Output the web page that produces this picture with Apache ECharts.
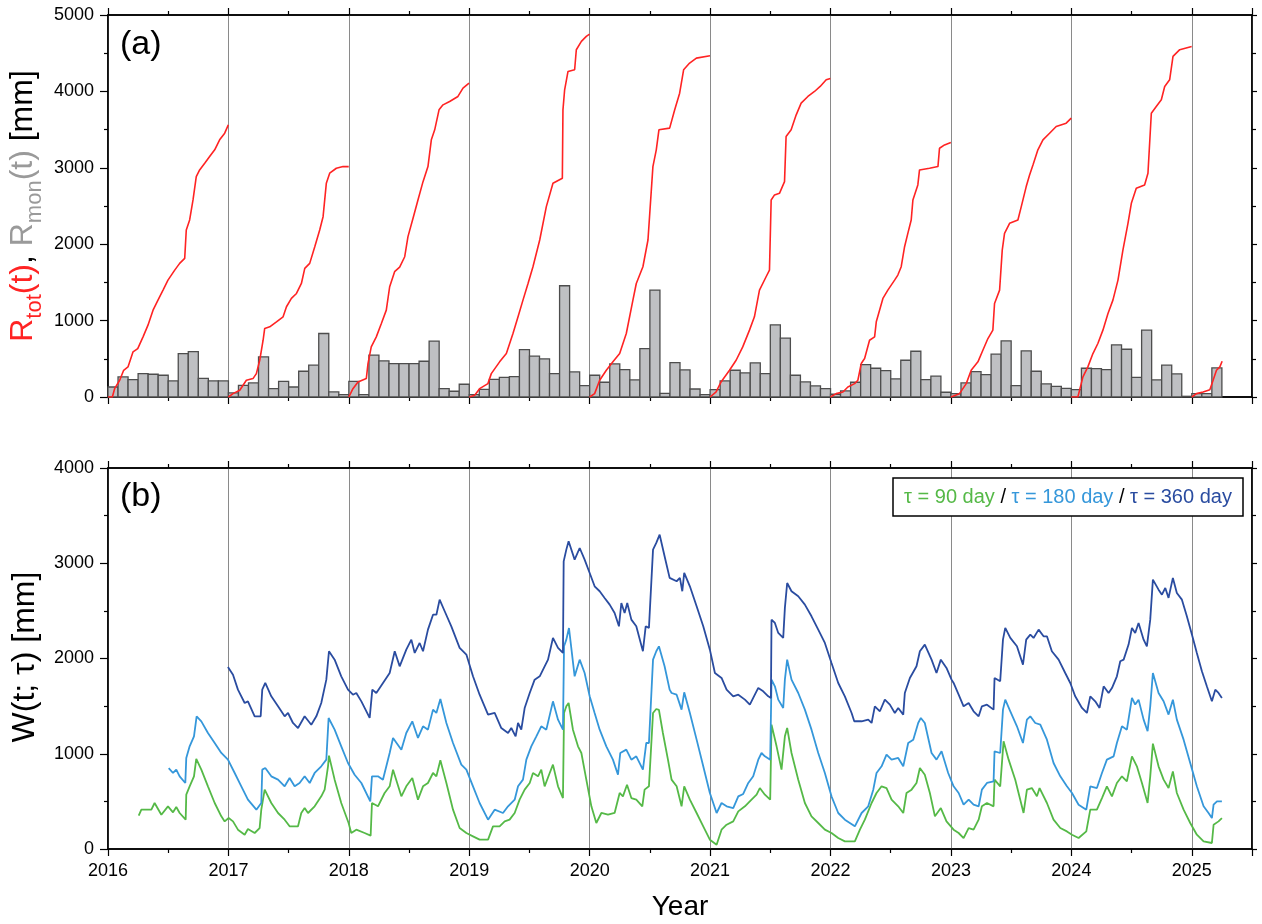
<!DOCTYPE html>
<html><head><meta charset="utf-8">
<script src="https://cdn.jsdelivr.net/npm/echarts/dist/echarts.min.js"></script>
<style>html,body{margin:0;padding:0;background:#fff}#c{width:1262px;height:924px}</style>
</head><body><div id="c"></div>
<script>
// ---------- DATA ----------
const monthlyStartYear = 2016; // Jan 2016 .. Mar 2025
const monthlyRain = [
 131,263,228,306,298,285,210,569,595,245,210,210,
 53,153,184,525,109,205,131,337,416,831,66,31,
 205,31,547,473,438,438,438,468,731,109,75,167,
 31,101,232,258,267,621,534,499,306,1456,328,149,
 285,193,433,359,224,634,1399,48,451,355,105,31,
 97,210,350,315,447,306,945,770,285,197,145,110,
 36,79,193,425,376,346,237,481,599,228,272,62,
 44,184,333,293,560,735,149,604,337,171,140,114,
 97,376,372,359,682,625,258,875,224,416,302,9,
 44,44,381
];
const rtot2016 = [[2016.000,0],[2016.036,0],[2016.055,109],[2016.097,219],[2016.130,350],[2016.166,394],[2016.208,591],[2016.247,634],[2016.291,787],[2016.332,940],[2016.374,1137],[2016.415,1268],[2016.457,1399],[2016.498,1530],[2016.554,1661],[2016.595,1749],[2016.637,1814],[2016.650,2186],[2016.678,2317],[2016.706,2579],[2016.733,2885],[2016.761,2972],[2016.803,3060],[2016.844,3147],[2016.886,3235],[2016.927,3366],[2016.969,3453],[2016.999,3562]];
const rtot2017 = [[2017.000,0],[2017.038,44],[2017.094,88],[2017.149,219],[2017.204,241],[2017.232,306],[2017.260,481],[2017.288,743],[2017.301,896],[2017.343,918],[2017.399,984],[2017.454,1050],[2017.482,1181],[2017.523,1290],[2017.565,1355],[2017.606,1486],[2017.634,1683],[2017.675,1749],[2017.717,1967],[2017.758,2186],[2017.786,2360],[2017.813,2797],[2017.841,2929],[2017.896,2994],[2017.952,3016],[2017.999,3016]];
const rtot2018 = [[2018.000,0],[2018.034,109],[2018.076,197],[2018.145,241],[2018.159,438],[2018.186,656],[2018.228,787],[2018.270,962],[2018.311,1137],[2018.339,1443],[2018.380,1640],[2018.422,1700],[2018.464,1836],[2018.491,2099],[2018.533,2339],[2018.574,2579],[2018.616,2819],[2018.657,3016],[2018.685,3366],[2018.713,3497],[2018.749,3759],[2018.782,3824],[2018.837,3868],[2018.906,3934],[2018.948,4043],[2018.998,4109]];
const rtot2019 = [[2019.000,0],[2019.045,22],[2019.086,109],[2019.155,175],[2019.183,306],[2019.252,460],[2019.308,569],[2019.363,831],[2019.405,1050],[2019.446,1268],[2019.488,1486],[2019.529,1705],[2019.585,2055],[2019.640,2492],[2019.695,2797],[2019.773,2863],[2019.778,3759],[2019.792,4021],[2019.820,4261],[2019.875,4283],[2019.889,4545],[2019.931,4655],[2019.972,4720],[2019.999,4750]];
const rtot2020 = [[2020.000,0],[2020.041,44],[2020.083,219],[2020.138,350],[2020.193,460],[2020.249,569],[2020.304,831],[2020.359,1268],[2020.387,1486],[2020.442,1705],[2020.484,2055],[2020.525,3016],[2020.553,3235],[2020.575,3497],[2020.664,3519],[2020.706,3759],[2020.747,3977],[2020.780,4283],[2020.830,4371],[2020.886,4436],[2020.999,4467]];
const rtot2021 = [[2021.000,0],[2021.050,66],[2021.091,197],[2021.161,350],[2021.216,481],[2021.271,656],[2021.327,875],[2021.368,1050],[2021.410,1399],[2021.465,1574],[2021.493,1661],[2021.507,2579],[2021.535,2645],[2021.576,2666],[2021.618,2819],[2021.631,3409],[2021.673,3497],[2021.715,3693],[2021.756,3846],[2021.812,3934],[2021.867,3999],[2021.914,4065],[2021.964,4152],[2021.999,4170]];
const rtot2022 = [[2022.000,0],[2022.047,44],[2022.103,66],[2022.144,131],[2022.200,175],[2022.227,219],[2022.255,438],[2022.283,503],[2022.324,743],[2022.366,787],[2022.380,984],[2022.435,1290],[2022.476,1399],[2022.532,1530],[2022.559,1596],[2022.587,1705],[2022.615,1967],[2022.642,2142],[2022.670,2317],[2022.684,2579],[2022.725,2776],[2022.739,2972],[2022.822,2994],[2022.892,3016],[2022.905,3256],[2022.947,3300],[2022.999,3331]];
const rtot2023 = [[2023.000,0],[2023.071,44],[2023.127,175],[2023.168,350],[2023.224,460],[2023.265,612],[2023.307,765],[2023.348,875],[2023.362,1224],[2023.404,1399],[2023.426,1923],[2023.445,2142],[2023.487,2273],[2023.556,2317],[2023.584,2492],[2023.625,2754],[2023.653,2907],[2023.681,3038],[2023.722,3235],[2023.764,3366],[2023.819,3453],[2023.874,3540],[2023.957,3584],[2023.999,3650]];
const rtot2024 = [[2024.000,0],[2024.054,0],[2024.096,263],[2024.137,394],[2024.179,569],[2024.220,700],[2024.262,875],[2024.304,1093],[2024.345,1268],[2024.387,1530],[2024.428,1923],[2024.470,2273],[2024.498,2535],[2024.539,2732],[2024.608,2776],[2024.636,2929],[2024.664,3715],[2024.705,3803],[2024.747,3890],[2024.775,4065],[2024.816,4152],[2024.844,4458],[2024.900,4546],[2024.999,4589]];
const rtot2025 = [[2025.000,0],[2025.039,44],[2025.094,66],[2025.150,96],[2025.177,219],[2025.205,350],[2025.233,394],[2025.252,468]];

const w90 = [[2016.255,350],[2016.277,413],[2016.360,413],[2016.387,483],[2016.443,360],[2016.498,448],[2016.540,385],[2016.567,441],[2016.595,378],[2016.645,308],[2016.650,570],[2016.678,658],[2016.714,763],[2016.733,945],[2016.775,833],[2016.830,658],[2016.886,483],[2016.941,343],[2016.969,290],[2017.002,325],[2017.038,290],[2017.079,203],[2017.135,150],[2017.162,210],[2017.218,168],[2017.259,220],[2017.273,413],[2017.301,623],[2017.356,483],[2017.412,378],[2017.467,308],[2017.508,238],[2017.578,238],[2017.605,378],[2017.633,430],[2017.661,378],[2017.716,448],[2017.771,553],[2017.799,623],[2017.827,868],[2017.835,980],[2017.882,728],[2017.937,483],[2017.998,273],[2018.020,168],[2018.062,203],[2018.131,168],[2018.181,140],[2018.192,483],[2018.242,448],[2018.297,588],
[2018.339,658],[2018.367,833],[2018.436,553],[2018.477,658],[2018.527,745],[2018.574,518],[2018.616,658],[2018.657,693],[2018.699,798],[2018.727,763],[2018.760,931],[2018.810,693],[2018.865,413],[2018.920,221],[2018.976,168],[2019.031,133],[2019.086,98],[2019.156,98],[2019.197,238],[2019.252,238],[2019.294,290],[2019.335,308],[2019.377,378],[2019.418,518],[2019.460,623],[2019.502,693],[2019.529,798],[2019.571,763],[2019.598,833],[2019.626,658],[2019.668,798],[2019.695,886],[2019.737,658],[2019.778,535],[2019.787,1428],[2019.806,1498],[2019.825,1533],[2019.861,1253],[2019.903,1078],[2019.931,1008],[2019.972,728],[2020.014,448],[2020.055,273],[2020.097,378],[2020.152,360],[2020.207,378],[2020.249,588],[2020.276,553],[2020.310,675],[2020.346,535],[2020.387,518],[2020.437,448],[2020.456,623],[2020.492,658],[2020.526,1428],[2020.553,1470],[2020.575,1460],[2020.608,1218],[2020.650,938],
[2020.680,728],[2020.722,658],[2020.763,448],[2020.785,658],[2020.832,518],[2020.888,378],[2020.943,238],[2020.998,98],[2021.054,45],[2021.095,203],[2021.137,255],[2021.192,290],[2021.234,395],[2021.289,448],[2021.344,518],[2021.386,570],[2021.413,640],[2021.455,570],[2021.499,518],[2021.510,1306],[2021.552,1078],[2021.593,833],[2021.621,1183],[2021.640,1271],[2021.676,1008],[2021.732,728],[2021.787,483],[2021.842,343],[2021.898,273],[2021.953,203],[2022.008,168],[2022.064,115],[2022.119,80],[2022.202,80],[2022.244,203],[2022.285,308],[2022.341,483],[2022.382,588],[2022.424,658],[2022.465,640],[2022.507,518],[2022.562,448],[2022.604,378],[2022.631,588],[2022.673,623],[2022.714,693],[2022.742,850],[2022.783,780],[2022.825,588],[2022.867,343],[2022.916,430],[2022.963,290],
[2023.022,203],[2023.064,168],[2023.105,115],[2023.147,220],[2023.188,203],[2023.230,308],[2023.257,448],[2023.299,483],[2023.354,448],[2023.362,728],[2023.409,658],[2023.437,1131],[2023.479,938],[2023.534,728],[2023.603,378],[2023.631,623],[2023.672,640],[2023.714,553],[2023.736,640],[2023.797,483],[2023.852,308],[2023.908,221],[2023.963,185],[2024.005,150],[2024.060,115],[2024.124,185],[2024.157,413],[2024.212,413],[2024.254,535],[2024.295,658],[2024.337,553],[2024.378,693],[2024.420,763],[2024.461,710],[2024.503,973],[2024.544,868],[2024.586,693],[2024.633,483],[2024.655,763],[2024.677,1106],[2024.724,868],[2024.766,728],[2024.807,640],[2024.843,815],[2024.876,588],[2024.932,413],[2024.987,273],[2025.042,150],[2025.098,80],[2025.167,63],[2025.181,255],[2025.222,290],[2025.250,325]];

const w180 = [[2016.504,850],[2016.540,798],[2016.567,833],[2016.595,763],[2016.642,693],[2016.650,956],[2016.678,1078],[2016.714,1183],[2016.736,1393],[2016.775,1340],[2016.830,1218],[2016.886,1113],[2016.941,1008],[2016.996,938],[2017.052,798],[2017.107,658],[2017.162,518],[2017.232,413],[2017.273,483],[2017.281,833],[2017.306,850],[2017.356,763],[2017.412,728],[2017.467,658],[2017.508,745],[2017.550,658],[2017.591,693],[2017.633,763],[2017.675,693],[2017.716,798],[2017.771,868],[2017.813,938],[2017.832,1375],[2017.882,1253],[2017.937,1078],[2017.993,903],[2018.048,780],[2018.104,693],[2018.178,500],[2018.192,763],[2018.242,763],[2018.283,728],
[2018.339,1008],[2018.367,1166],[2018.436,1043],[2018.477,1218],[2018.527,1340],[2018.574,1166],[2018.616,1288],[2018.657,1253],[2018.699,1463],[2018.727,1428],[2018.760,1575],[2018.810,1323],[2018.865,1113],[2018.934,886],[2018.976,833],[2019.031,658],[2019.086,483],[2019.156,308],[2019.211,413],[2019.280,378],[2019.322,448],[2019.377,518],[2019.405,658],[2019.446,728],[2019.474,938],[2019.515,1078],[2019.557,1183],[2019.598,1288],[2019.640,1253],[2019.695,1550],[2019.737,1358],[2019.778,1253],[2019.787,2128],[2019.806,2198],[2019.828,2320],[2019.875,1813],[2019.917,1988],[2019.958,1848],[2020.000,1603],[2020.041,1428],[2020.083,1253],[2020.138,1078],[2020.193,938],[2020.235,780],[2020.254,1008],[2020.304,1043],[2020.346,938],[2020.387,973],[2020.442,833],[2020.470,1113],[2020.492,1113],[2020.526,1988],[2020.553,2076],[2020.575,2128],[2020.622,1918],[2020.664,1673],
[2020.680,1638],[2020.722,1620],[2020.763,1463],[2020.785,1645],[2020.832,1428],[2020.888,1148],[2020.943,868],[2020.998,588],[2021.054,378],[2021.095,483],[2021.137,448],[2021.192,430],[2021.234,553],[2021.275,578],[2021.317,693],[2021.358,763],[2021.400,938],[2021.427,1008],[2021.455,973],[2021.499,938],[2021.510,1778],[2021.538,1708],[2021.566,1568],[2021.607,1481],[2021.621,1778],[2021.640,1988],[2021.676,1778],[2021.732,1638],[2021.787,1463],[2021.842,1253],[2021.898,1008],[2021.953,798],[2022.008,553],[2022.064,378],[2022.119,308],[2022.202,238],[2022.258,378],[2022.313,448],[2022.355,623],[2022.382,798],[2022.424,868],[2022.465,991],[2022.507,938],[2022.562,956],[2022.604,868],[2022.645,1113],[2022.687,1148],[2022.728,1323],[2022.750,1376],[2022.783,1323],[2022.839,1008],[2022.880,938],[2022.922,1026],[2022.977,798],
[2023.022,658],[2023.064,588],[2023.105,465],[2023.147,518],[2023.188,465],[2023.230,448],[2023.257,623],[2023.299,693],[2023.354,710],[2023.362,1026],[2023.409,1008],[2023.432,1463],[2023.451,1568],[2023.493,1446],[2023.548,1288],[2023.598,1113],[2023.631,1358],[2023.659,1393],[2023.700,1323],[2023.742,1306],[2023.797,1148],[2023.852,903],[2023.908,763],[2023.963,658],[2024.005,588],[2024.060,465],[2024.124,413],[2024.157,658],[2024.212,640],[2024.254,798],[2024.295,938],[2024.351,973],[2024.378,1113],[2024.420,1288],[2024.461,1253],[2024.503,1586],[2024.530,1516],[2024.558,1568],[2024.600,1358],[2024.633,1236],[2024.655,1498],[2024.677,1848],[2024.724,1638],[2024.766,1551],[2024.807,1411],[2024.843,1568],[2024.876,1358],[2024.932,1148],[2024.987,903],[2025.042,658],[2025.098,448],[2025.139,378],[2025.167,325],[2025.181,465],[2025.209,500],[2025.250,500]];

const w360 = [[2016.996,1911],[2017.038,1830],[2017.079,1673],[2017.135,1533],[2017.162,1550],[2017.218,1393],[2017.268,1393],[2017.281,1673],[2017.306,1743],[2017.356,1603],[2017.412,1498],[2017.467,1393],[2017.495,1428],[2017.536,1323],[2017.578,1270],[2017.633,1393],[2017.688,1305],[2017.730,1393],[2017.771,1533],[2017.813,1778],[2017.835,2076],[2017.882,1988],[2017.937,1813],[2017.993,1673],[2018.034,1620],[2018.062,1638],[2018.104,1550],[2018.173,1376],[2018.195,1673],[2018.228,1638],[2018.256,1691],
[2018.339,1848],[2018.381,2076],[2018.422,1918],[2018.477,2093],[2018.519,2198],[2018.547,2058],[2018.588,2163],[2018.616,2076],[2018.657,2303],[2018.699,2460],[2018.727,2460],[2018.754,2618],[2018.796,2496],[2018.851,2338],[2018.920,2111],[2018.976,2041],[2019.031,1813],[2019.086,1620],[2019.156,1410],[2019.211,1428],[2019.266,1270],[2019.322,1218],[2019.349,1270],[2019.385,1183],[2019.405,1323],[2019.432,1253],[2019.460,1480],[2019.502,1638],[2019.543,1778],[2019.585,1813],[2019.626,1918],[2019.654,1988],[2019.695,2216],[2019.737,2111],[2019.778,2058],[2019.784,3020],[2019.806,3143],[2019.825,3230],[2019.875,3038],[2019.917,3160],[2019.958,3038],[2020.000,2898],[2020.041,2758],[2020.083,2706],[2020.124,2636],[2020.166,2566],[2020.207,2478],[2020.243,2338],[2020.263,2583],[2020.290,2478],[2020.312,2583],[2020.346,2408],[2020.387,2338],[2020.442,2076],[2020.465,2338],[2020.492,2321],[2020.526,3143],[2020.553,3213],[2020.581,3300],[2020.622,3073],[2020.664,2846],
[2020.680,2828],[2020.722,2811],[2020.749,2846],[2020.769,2706],[2020.785,2898],[2020.832,2758],[2020.888,2548],[2020.943,2338],[2020.998,2093],[2021.040,1848],[2021.095,1796],[2021.137,1673],[2021.192,1603],[2021.234,1620],[2021.289,1568],[2021.330,1516],[2021.358,1586],[2021.400,1691],[2021.441,1656],[2021.483,1603],[2021.505,1586],[2021.510,2408],[2021.538,2373],[2021.566,2268],[2021.607,2216],[2021.621,2531],[2021.640,2793],[2021.676,2706],[2021.732,2653],[2021.787,2566],[2021.842,2443],[2021.898,2303],[2021.953,2163],[2022.008,1953],[2022.064,1743],[2022.119,1603],[2022.175,1428],[2022.197,1341],[2022.258,1341],[2022.313,1358],[2022.341,1323],[2022.368,1498],[2022.410,1446],[2022.451,1568],[2022.493,1516],[2022.534,1428],[2022.562,1481],[2022.604,1411],[2022.617,1638],[2022.659,1796],[2022.714,1918],[2022.742,2076],[2022.783,2146],[2022.839,1988],[2022.880,1848],[2022.916,1988],[2022.963,1901],[2023.005,1778],
[2023.022,1743],[2023.064,1620],[2023.105,1498],[2023.147,1533],[2023.188,1446],[2023.230,1393],[2023.257,1498],[2023.299,1515],[2023.354,1463],[2023.362,1796],[2023.409,1761],[2023.432,2198],[2023.451,2321],[2023.493,2216],[2023.548,2128],[2023.598,1936],[2023.625,2198],[2023.659,2251],[2023.686,2216],[2023.728,2303],[2023.769,2233],[2023.797,2233],[2023.838,2076],[2023.894,1988],[2023.949,1848],[2023.991,1743],[2024.032,1603],[2024.088,1481],[2024.129,1428],[2024.157,1603],[2024.198,1551],[2024.234,1481],[2024.268,1708],[2024.309,1638],[2024.337,1690],[2024.378,1813],[2024.406,1971],[2024.434,1988],[2024.475,2146],[2024.503,2321],[2024.530,2268],[2024.558,2373],[2024.600,2198],[2024.627,2128],[2024.655,2408],[2024.677,2828],[2024.724,2723],[2024.752,2670],[2024.780,2741],[2024.807,2636],[2024.843,2846],[2024.876,2688],[2024.918,2618],[2024.959,2443],[2025.001,2251],[2025.042,2058],[2025.084,1866],[2025.125,1708],[2025.167,1551],[2025.195,1673],[2025.222,1638],[2025.250,1586]];

const rtotYears = [rtot2016,rtot2017,rtot2018,rtot2019,rtot2020,rtot2021,rtot2022,rtot2023,rtot2024,rtot2025];

// ---------- CHART ----------
const F = 'Liberation Sans, Arial, Helvetica, sans-serif';
const RED = '#ff2323', GREY = '#9a9a9a';
const GREEN = '#55b947', LBLUE = '#3597da', DBLUE = '#2a4ca0';
const isInt = v => Math.abs(v - Math.round(v)) < 1e-6;

function xAx(grid, pos, labels, split) {
  return {type:'value', gridIndex:grid, position:pos, min:2016, max:2025.5, interval:1,
    axisLine:{show:true, onZero:false, lineStyle:{color:'#000', width:1.5}},
    axisTick:{show:true, inside:false, length:7, lineStyle:{color:'#000', width:1.2}},
    minorTick:{show:true, splitNumber:2, length:4, lineStyle:{color:'#000', width:1.2}},
    axisLabel:{show:labels, margin:13, color:'#000', fontSize:18, fontFamily:F,
      formatter: v => isInt(v) ? String(Math.round(v)) : ''},
    splitLine:{show:split, lineStyle:{color:'#8a8a8a', width:1}},
    minorSplitLine:{show:false}};
}
function yAx(grid, pos, max, labels) {
  return {type:'value', gridIndex:grid, position:pos, min:0, max:max, interval:1000,
    axisLine:{show:true, onZero:false, lineStyle:{color:'#000', width:1.5}},
    axisTick:{show:true, inside:false, length: labels ? 8 : 5, lineStyle:{color:'#000', width:1.2}},
    minorTick:{show:true, splitNumber:2, length:4, lineStyle:{color:'#000', width:1.2}},
    axisLabel:{show:labels, margin:14, color:'#000', fontSize:18, fontFamily:F,
      formatter: v => String(Math.round(v))},
    splitLine:{show:false}, minorSplitLine:{show:false}};
}

const series = [];
series.push({
  type:'custom', xAxisIndex:0, yAxisIndex:0, z:2,
  data: monthlyRain.map((v,i)=>[monthlyStartYear + i/12, monthlyStartYear + (i+1)/12, v]),
  encode:{x:[0,1], y:2},
  renderItem(params, api){
    const p0 = api.coord([api.value(0), api.value(2)]);
    const p1 = api.coord([api.value(1), 0]);
    return {type:'rect', shape:{x:p0[0], y:p0[1], width:p1[0]-p0[0], height:p1[1]-p0[1]},
      style:{fill:'#bfc0c3', stroke:'#4d4d4d', lineWidth:1.3}};
  }
});
rtotYears.forEach(d => series.push({type:'line', xAxisIndex:0, yAxisIndex:0, data:d, symbol:'none',
  z:4, lineStyle:{color:RED, width:1.6}, itemStyle:{color:RED}}));
[[w90,GREEN],[w180,LBLUE],[w360,DBLUE]].forEach(([d,c]) => series.push({type:'line', xAxisIndex:2, yAxisIndex:2,
  data:d, symbol:'none', z:4, lineStyle:{color:c, width:1.8}, itemStyle:{color:c}}));

const option = {
  animation:false,
  backgroundColor:'#fff',
  grid:[
    {left:108, top:15, right:10, height:382, show:true, borderColor:'#000', borderWidth:1.5, backgroundColor:'transparent', outerBoundsMode:'none', containLabel:false},
    {left:108, top:468, right:10, height:381, show:true, borderColor:'#000', borderWidth:1.5, backgroundColor:'transparent', outerBoundsMode:'none', containLabel:false}
  ],
  xAxis:[xAx(0,'bottom',false,true), xAx(0,'top',false,false), xAx(1,'bottom',true,true), xAx(1,'top',false,false)],
  yAxis:[yAx(0,'left',5000,true), yAx(0,'right',5000,false), yAx(1,'left',4000,true), yAx(1,'right',4000,false)],
  series: series,
  graphic:[
    {type:'text', x:120, y:45, z:100, style:{text:'(a)', fontSize:34, fontFamily:F, fill:'#000', align:'left', verticalAlign:'middle'}},
    {type:'text', x:120, y:497, z:100, style:{text:'(b)', fontSize:34, fontFamily:F, fill:'#000', align:'left', verticalAlign:'middle'}},
    {type:'text', x:680, y:907, z:100, style:{text:'Year', fontSize:28, fontFamily:F, fill:'#000', align:'center', verticalAlign:'middle'}},
    {type:'text', x:23, y:206, rotation:Math.PI/2, z:100, style:{
      text:'{r|R}{rs|tot}{r|(t)}{k|, }{g|R}{gs|mon}{g|(t)}{k| [mm]}',
      align:'center', verticalAlign:'middle', fontFamily:F,
      rich:{
        r:{fill:RED, fontSize:32, lineHeight:46, fontFamily:F},
        rs:{fill:RED, fontSize:22, lineHeight:22, verticalAlign:'bottom', fontFamily:F},
        g:{fill:GREY, fontSize:32, lineHeight:46, fontFamily:F},
        gs:{fill:GREY, fontSize:22, lineHeight:22, verticalAlign:'bottom', fontFamily:F},
        k:{fill:'#000', fontSize:32, lineHeight:46, fontFamily:F}
      }}},
    {type:'text', x:25, y:657, rotation:Math.PI/2, z:100, style:{text:'W(t; \u03c4) [mm]', fontSize:32, fontFamily:F, fill:'#000', align:'center', verticalAlign:'middle'}},
    {type:'rect', z:100, shape:{x:893, y:478, width:350, height:38}, style:{fill:'#fff', stroke:'#000', lineWidth:1.5}},
    {type:'text', x:1068, y:497, z:101, style:{
      text:'{g|\u03c4 = 90 day}{k| / }{l|\u03c4 = 180 day}{k| / }{d|\u03c4 = 360 day}',
      align:'center', verticalAlign:'middle', fontFamily:F,
      rich:{
        g:{fill:GREEN, fontSize:20, fontFamily:F},
        l:{fill:LBLUE, fontSize:20, fontFamily:F},
        d:{fill:DBLUE, fontSize:20, fontFamily:F},
        k:{fill:'#000', fontSize:20, fontFamily:F}
      }}}
  ]
};
const chart = echarts.init(document.getElementById('c'), null, {renderer:'canvas'});
chart.setOption(option);
</script>
</body></html>
